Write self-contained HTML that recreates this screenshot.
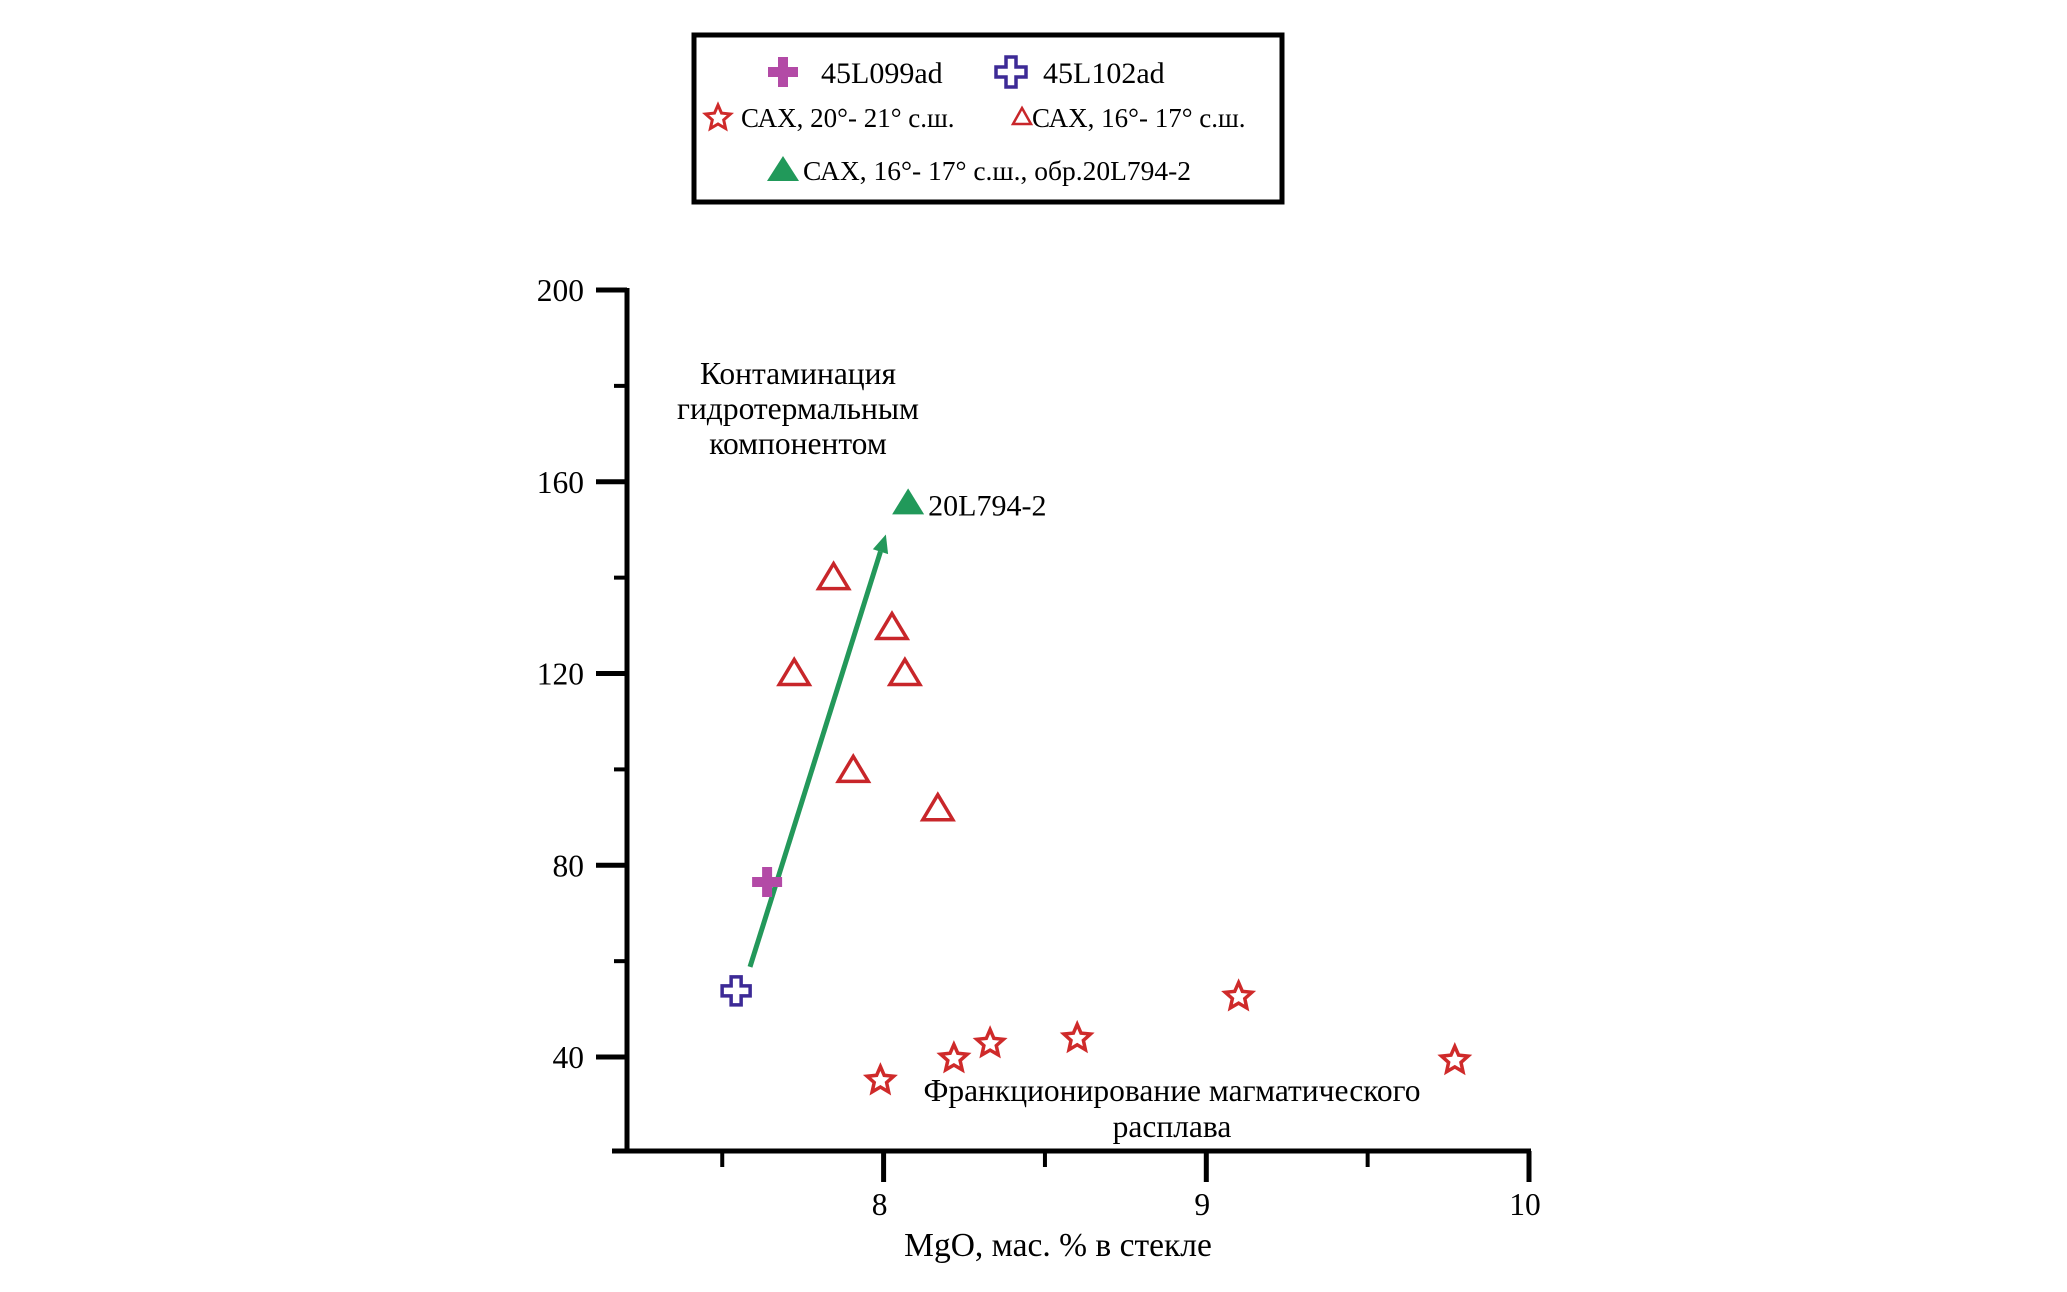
<!DOCTYPE html>
<html><head><meta charset="utf-8"><style>
html,body{margin:0;padding:0;background:#fff;}
svg{display:block;font-family:"Liberation Serif",serif;}
</style></head><body>
<svg id="chart" width="2067" height="1292" viewBox="0 0 2067 1292" xmlns="http://www.w3.org/2000/svg">
<g transform="translate(-9,0)">
<rect x="703" y="35" width="588" height="167" fill="#fff" stroke="#000" stroke-width="5"/>
<g>
<path d="M787,58h10v10h10v10h-10v10h-10v-10h-10v-10h10z" transform="translate(0,-1)" fill="#b34aa6"/>
<text x="830" y="83" font-size="30">45L099ad</text></g>
<g>
<path d="M1015,58h10v10h10v10h-10v10h-10v-10h-10v-10h10z" transform="translate(0,-1)" fill="#fff" stroke="#3d2a96" stroke-width="3.5"/>
<text x="1052" y="83" font-size="30">45L102ad</text></g>
<g>
<polygon id="lgstar" fill="none" stroke="#cf2a2a" stroke-width="3"/>
<text x="750" y="127" font-size="27">САХ, 20°- 21° с.ш.</text></g>
<g>
<polygon points="1031,108 1040,124 1022,124" fill="none" stroke="#c8262a" stroke-width="2.5"/>
<text x="1041" y="127" font-size="27">САХ, 16°- 17° с.ш.</text></g>
<g>
<polygon points="792,156 808,181 776,181" fill="#21995a"/>
<text x="812" y="180" font-size="27.5">САХ, 16°- 17° с.ш., обр.20L794-2</text></g>
</g>
<g id="axes"></g>
<g id="marks"></g>
<g>
<text x="798" y="384" font-size="31.5" text-anchor="middle">
<tspan x="798">Контаминация</tspan><tspan x="798" dy="35">гидротермальным</tspan><tspan x="798" dy="35">компонентом</tspan></text>
<text x="1172" y="1101" font-size="31.5" text-anchor="middle">
<tspan x="1172">Франкционирование магматического</tspan><tspan x="1172" dy="36">расплава</tspan></text>
<text x="1058" y="1256" font-size="33.5" text-anchor="middle">MgO, мас. % в стекле</text>
</g>
</svg>
<script>
const xTicksMajor=[8,9,10];
const xTicksMinor=[7.5,8.5,9.5];
const yTicksMajor=[40,80,120,160,200];
const yTicksMinor=[60,100,140,180];
const triX=[7.845,7.723,8.026,8.066,7.906,8.168];
const triY=[140,120,129.6,120,99.8,91.8];
const starX=[7.99,8.218,8.33,8.6,9.10,9.77];
const starY=[35.1,39.7,42.8,43.9,52.6,39.3];
const greenX=[8.076];const greenY=[155.5];
const plusX=[7.639];const plusY=[76.5];
const openX=[7.543];const openY=[53.8];
const arrowX=[7.586,8.007];const arrowY=[58.8,149];
const NS='http://www.w3.org/2000/svg';
const sx=v=>883.6+(v-8)*322.7;
const sy=v=>290+(200-v)*4.794;
function mk(tag,attrs,parent){const e=document.createElementNS(NS,tag);for(const k in attrs)e.setAttribute(k,attrs[k]);parent.appendChild(e);return e;}
const axes=document.getElementById('axes'),marks=document.getElementById('marks');
let l=mk('line',{x1:627,y1:288,x2:627,y2:1153,stroke:'#000','stroke-width':5},axes);


l=mk('line',{x1:612,y1:1151,x2:sx(10)+2,y2:1151,stroke:'#000','stroke-width':5},axes);


yTicksMajor.forEach(v=>{
 const t=mk('line',{x1:596,x2:627,y1:sy(v),y2:sy(v),stroke:'#000','stroke-width':5},axes);
 
 
 const tx=mk('text',{x:584,y:sy(v)+11,'font-size':31.5,'text-anchor':'end'},axes);tx.textContent=v;
 
 
});
yTicksMinor.forEach(v=>{
 const t=mk('line',{x1:614,x2:627,y1:sy(v),y2:sy(v),stroke:'#000','stroke-width':4},axes);
 
 
});
xTicksMajor.forEach(v=>{
 const t=mk('line',{x1:sx(v),x2:sx(v),y1:1151,y2:1182,stroke:'#000','stroke-width':5},axes);
 
 
 const tx=mk('text',{x:sx(v)-4,y:1215,'font-size':31.5,'text-anchor':'middle'},axes);tx.textContent=v;
 
 
});
xTicksMinor.forEach(v=>{
 const t=mk('line',{x1:sx(v),x2:sx(v),y1:1151,y2:1167,stroke:'#000','stroke-width':4},axes);
 
 
});
function starPts(cx,cy,R,r){let p=[];for(let i=0;i<10;i++){const a=-Math.PI/2+i*Math.PI/5,rr=i%2?r:R;p.push((cx+rr*Math.cos(a)).toFixed(1)+','+(cy+rr*Math.sin(a)).toFixed(1));}return p.join(' ');}
document.getElementById('lgstar').setAttribute('points',starPts(727,118,13,6));
const ax1=sx(arrowX[0]),ay1=sy(arrowY[0]),ax2=sx(arrowX[1]),ay2=sy(arrowY[1]);
const ang=Math.atan2(ay2-ay1,ax2-ax1);
const bx=ax2-18*Math.cos(ang),by=ay2-18*Math.sin(ang);
let a=mk('line',{x1:ax1,y1:ay1,x2:bx,y2:by,stroke:'#23985a','stroke-width':5},marks);


const px=-Math.sin(ang),py=Math.cos(ang);
a=mk('polygon',{points:`${ax2},${ay2} ${bx+8*px},${by+8*py} ${bx-8*px},${by-8*py}`,fill:'#23985a'},marks);


triX.forEach((v,i)=>{const cx=sx(v),cy=sy(triY[i]);
 const p=mk('polygon',{points:`${cx},${cy-14} ${cx+15},${cy+11} ${cx-15},${cy+11}`,fill:'none',stroke:'#c8262a','stroke-width':3.5},marks);
 
 });
starX.forEach((v,i)=>{const cx=sx(v),cy=sy(starY[i]);
 const p=mk('polygon',{points:starPts(cx,cy,14,6.5),fill:'none',stroke:'#cf2a2a','stroke-width':3.5},marks);
 
 });
greenX.forEach((v,i)=>{const cx=sx(v),cy=sy(greenY[i]);
 const p=mk('polygon',{points:`${cx},${cy-15} ${cx+16},${cy+11} ${cx-16},${cy+11}`,fill:'#21995a'},marks);
 
 
 const t=mk('text',{x:cx+20,y:cy+12,'font-size':30},marks);t.textContent='20L794-2';
 
 });
function cross(cx,cy,s,w){return `M${cx-w},${cy-s}h${2*w}v${s-w}h${s-w}v${2*w}h${-(s-w)}v${s-w}h${-2*w}v${-(s-w)}h${-(s-w)}v${-2*w}h${s-w}z`;}
plusX.forEach((v,i)=>{const p=mk('path',{d:cross(sx(v),sy(plusY[i]),15,5),fill:'#b34aa6'},marks);
 
 });
openX.forEach((v,i)=>{const p=mk('path',{d:cross(sx(v),sy(openY[i]),14,5),fill:'#fff',stroke:'#3d2a96','stroke-width':3.5},marks);
 
 });
</script>
</body></html>
